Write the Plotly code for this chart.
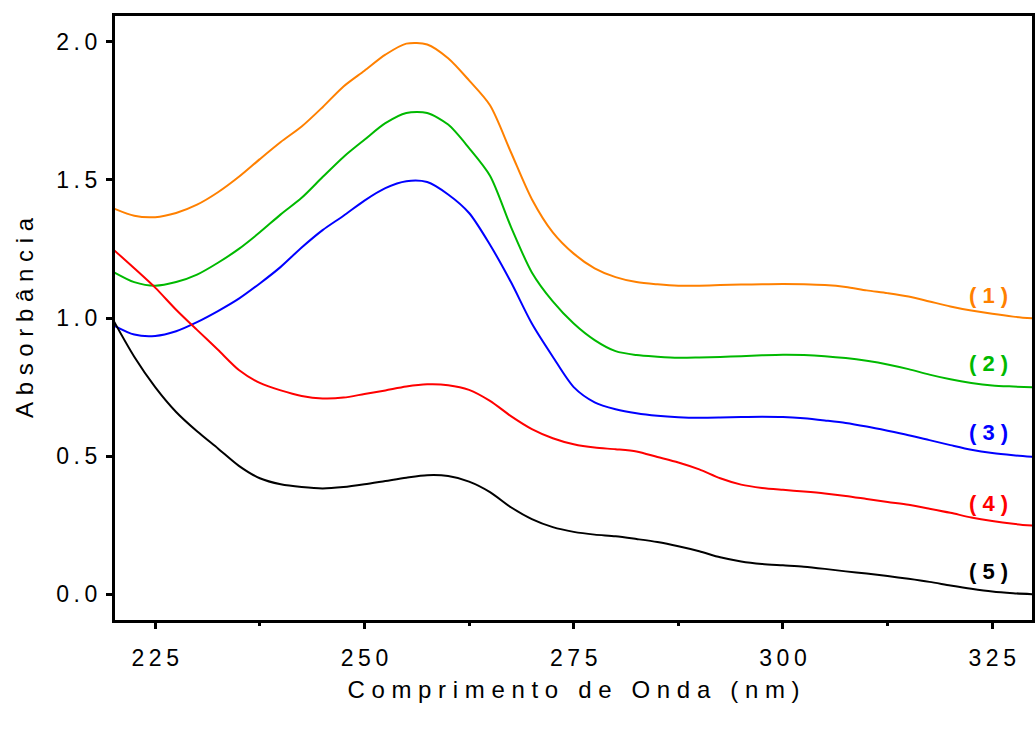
import plotly.graph_objects as go

# Wavelength grid (nm)
wavelength = [220, 222.5, 225, 227.5, 230, 232.5, 235, 237.5, 240, 242.5,
              245, 247.5, 250, 252.5, 255, 257.5, 260, 262.5, 265, 267.5,
              270, 272.5, 275, 277.5, 280, 282.5, 285, 287.5, 290, 292.5,
              295, 297.5, 300, 302.5, 305, 307.5, 310, 312.5, 315, 317.5,
              320, 322.5, 325, 327.5, 330]

# Absorbance spectra
abs_1 = [1.397, 1.370, 1.365, 1.380, 1.410, 1.455, 1.511, 1.575, 1.637, 1.693,
         1.763, 1.838, 1.895, 1.953, 1.993, 1.990, 1.940, 1.860, 1.770, 1.600,
         1.430, 1.310, 1.233, 1.180, 1.148, 1.130, 1.122, 1.117, 1.117, 1.119,
         1.121, 1.122, 1.123, 1.122, 1.119, 1.112, 1.100, 1.090, 1.078, 1.060,
         1.042, 1.027, 1.015, 1.005, 0.998]
abs_2 = [1.167, 1.130, 1.117, 1.130, 1.157, 1.200, 1.250, 1.310, 1.375, 1.435,
         1.510, 1.583, 1.645, 1.705, 1.742, 1.742, 1.700, 1.615, 1.515, 1.330,
         1.165, 1.060, 0.980, 0.920, 0.880, 0.866, 0.860, 0.856, 0.857, 0.859,
         0.862, 0.865, 0.867, 0.866, 0.862, 0.855, 0.845, 0.832, 0.815, 0.795,
         0.778, 0.765, 0.756, 0.752, 0.749]
abs_3 = [0.974, 0.940, 0.935, 0.952, 0.985, 1.025, 1.070, 1.125, 1.185, 1.255,
         1.318, 1.370, 1.425, 1.470, 1.495, 1.492, 1.447, 1.380, 1.265, 1.130,
         0.980, 0.860, 0.750, 0.695, 0.670, 0.655, 0.646, 0.641, 0.639, 0.640,
         0.642, 0.643, 0.642, 0.637, 0.629, 0.620, 0.607, 0.592, 0.576, 0.558,
         0.540, 0.523, 0.511, 0.503, 0.497]
abs_4 = [1.248, 1.180, 1.110, 1.030, 0.957, 0.885, 0.812, 0.765, 0.738, 0.718,
         0.709, 0.712, 0.725, 0.738, 0.752, 0.760, 0.757, 0.740, 0.700, 0.645,
         0.598, 0.565, 0.543, 0.531, 0.525, 0.517, 0.497, 0.477, 0.452, 0.420,
         0.397, 0.385, 0.378, 0.372, 0.365, 0.356, 0.345, 0.334, 0.324, 0.310,
         0.295, 0.278, 0.265, 0.255, 0.248]
abs_5 = [0.992, 0.860, 0.750, 0.660, 0.590, 0.528, 0.465, 0.420, 0.398, 0.388,
         0.383, 0.388, 0.398, 0.410, 0.422, 0.431, 0.428, 0.408, 0.370, 0.315,
         0.272, 0.243, 0.226, 0.216, 0.210, 0.200, 0.189, 0.174, 0.156, 0.134,
         0.119, 0.110, 0.105, 0.100, 0.092, 0.083, 0.075, 0.066, 0.056, 0.045,
         0.032, 0.020, 0.010, 0.004, 0.000]

series = [abs_1, abs_2, abs_3, abs_4, abs_5]
colors = ["#FF8000", "#00B900", "#0000FF", "#FF0000", "#000000"]
labels = ["(1)", "(2)", "(3)", "(4)", "(5)"]

# Label anchor points
label_x = [324.6, 324.6, 324.6, 324.6, 324.6]
label_y = [1.083, 0.837, 0.584, 0.330, 0.081]

# Axis ticks
x_ticks = [225, 250, 275, 300, 325]
x_minor = [237.5, 262.5, 287.5, 312.5]
y_ticks = [0.0, 0.5, 1.0, 1.5, 2.0]

THIN = "\u2009"
NBSP = "\u00a0"


def spaced(s, sep):
    return sep.join(s)


def spaced_title(s):
    words = s.split(" ")
    return (NBSP * 3).join(NBSP.join(w) for w in words)


FONT = "Liberation Sans, Arial, sans-serif"

fig = go.Figure()
for ys, c in zip(series, colors):
    fig.add_trace(go.Scatter(
        x=wavelength, y=ys, mode="lines",
        line=dict(color=c, width=2, shape="spline", smoothing=0.8),
        showlegend=False, hoverinfo="skip", cliponaxis=True,
    ))

for lx, ly, lab, c in zip(label_x, label_y, labels, colors):
    fig.add_annotation(
        x=lx, y=ly, xref="x", yref="y", text="<b>" + spaced(lab, NBSP) + "</b>",
        showarrow=False, font=dict(family=FONT, size=22, color=c),
        xanchor="center", yanchor="middle",
    )

fig.update_xaxes(
    range=[220.2, 329.75],
    tickmode="array", tickvals=x_ticks,
    ticktext=[spaced(f"{v}", THIN) for v in x_ticks],
    ticks="outside", ticklen=6, tickwidth=3, tickcolor="black",
    minor=dict(tickmode="array", tickvals=x_minor, ticks="outside",
               ticklen=3, tickwidth=3, tickcolor="black", showgrid=False),
    showline=True, linewidth=3, linecolor="black", mirror=True,
    showgrid=False, zeroline=False,
    tickfont=dict(family=FONT, size=23, color="black"),
    ticklabelstandoff=9,
    title=dict(text=spaced_title("Comprimento de Onda (nm)"),
               font=dict(family=FONT, size=24, color="black"), standoff=12),
)
fig.update_yaxes(
    range=[-0.093, 2.093],
    tickmode="array", tickvals=y_ticks,
    ticktext=[spaced(f"{v:.1f}", THIN) for v in y_ticks],
    ticks="outside", ticklen=6, tickwidth=3, tickcolor="black",
    showline=True, linewidth=3, linecolor="black", mirror=True,
    showgrid=False, zeroline=False,
    tickfont=dict(family=FONT, size=23, color="black"),
    ticklabelstandoff=4,
    title=dict(text=spaced_title("Absorbância"),
               font=dict(family=FONT, size=24, color="black"), standoff=16),
)

fig.update_layout(
    width=1035, height=733,
    margin=dict(l=115, r=3, t=16, b=113, autoexpand=False),
    paper_bgcolor="white", plot_bgcolor="white",
    font=dict(family=FONT, color="black"),
)

fig.write_html("out.html")
